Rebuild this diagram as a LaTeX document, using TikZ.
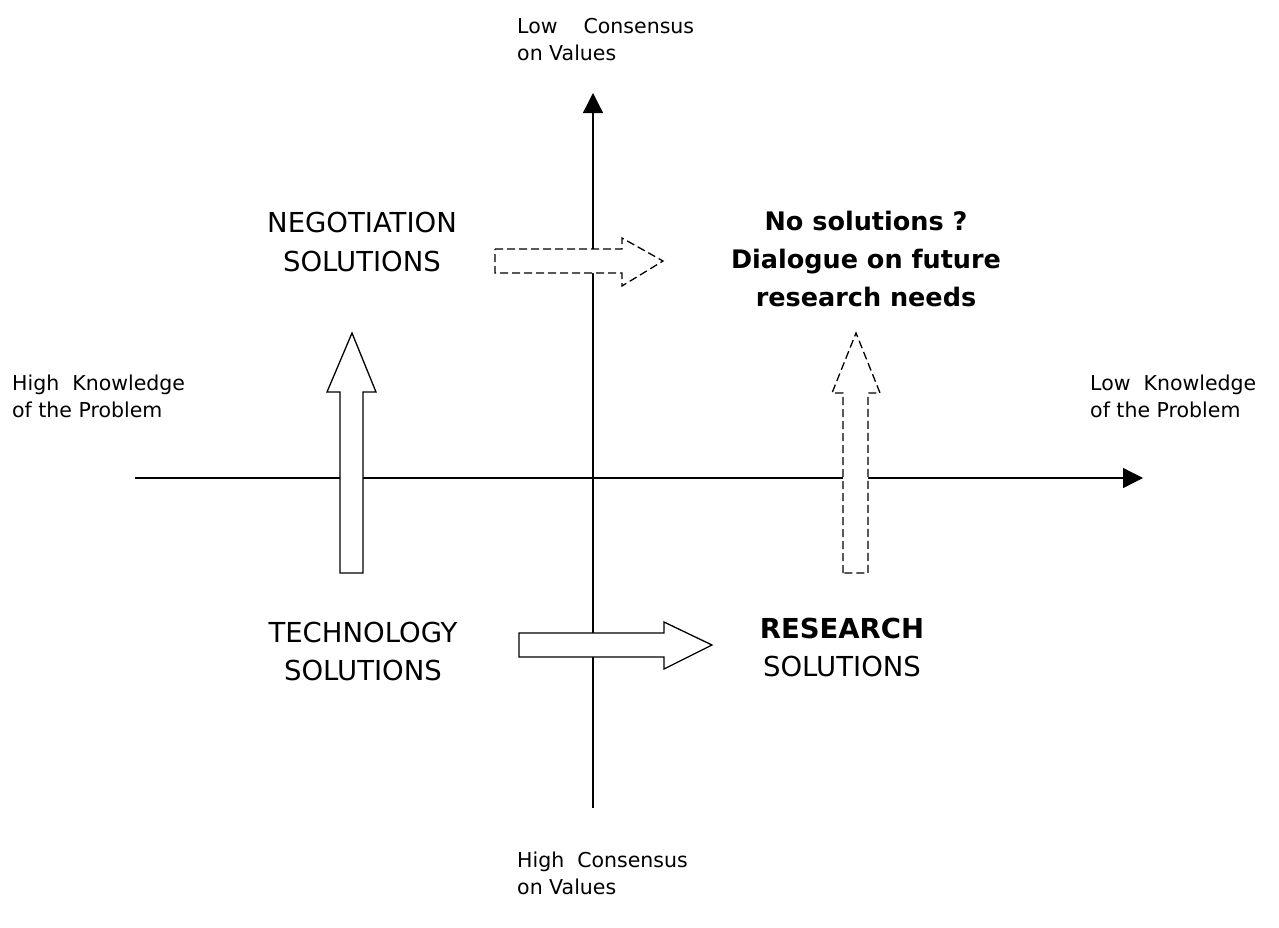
\documentclass[tikz,border=0pt]{standalone}
\usepackage{fontspec}
\setmainfont{DejaVu Sans}
\usetikzlibrary{arrows.meta}
\begin{document}
\begin{tikzpicture}[x=1pt,y=-1pt,
  axis/.style={line width=1.3pt,-{Triangle[length=20pt,width=20pt]}},
  blockarrow/.style={draw=black,fill=white,line width=1.3pt,line join=miter},
  dashedarrow/.style={blockarrow,dash pattern=on 8pt off 4pt},
  small/.style={inner sep=0pt,anchor=base west,font=\fontsize{20.5}{27}\selectfont},
  big/.style={inner sep=0pt,anchor=base,font=\fontsize{27.5}{38}\selectfont},
  bigbold/.style={inner sep=0pt,anchor=base,font=\fontsize{25.5}{38}\selectfont\bfseries},
]
\useasboundingbox[fill=white] (0,0) rectangle (1279,927);
% axes
\coordinate (vS) at (593,808);
\coordinate (vE) at (593,93);
\coordinate (hS) at (135,478);
\coordinate (hE) at (1143,478);
\draw[axis] (vS) -- (vE);
\draw[axis] (hS) -- (hE);
% block arrows
\draw[blockarrow] (340,573) -- (340,392) -- (327,392) -- (352,333) -- (376,392) -- (363,392) -- (363,573) -- cycle;
\draw[dashedarrow] (843,573) -- (843,393) -- (832,393) -- (856,333) -- (880,393) -- (868,393) -- (868,573) -- cycle;
\draw[dashedarrow] (495,249) -- (622,249) -- (622,238) -- (663,261) -- (622,286) -- (622,273) -- (495,273) -- cycle;
\draw[blockarrow] (519,633) -- (664,633) -- (664,622) -- (712,645) -- (664,669) -- (664,657) -- (519,657) -- cycle;
% labels
\node[small] (lowcons) at (517,33) {\begin{tabular}[t]{@{}l@{}}Low\ \ \ \ Consensus\\on Values\end{tabular}};
\node[small] (highcons) at (517,867) {\begin{tabular}[t]{@{}l@{}}High\ \ Consensus\\on Values\end{tabular}};
\node[small] (highknow) at (12,390) {\begin{tabular}[t]{@{}l@{}}High\ \ Knowledge\\of the Problem\end{tabular}};
\node[small] (lowknow) at (1090,390) {\begin{tabular}[t]{@{}l@{}}Low\ \ Knowledge\\of the Problem\end{tabular}};
\node[big] (nego) at (362,232) {\begin{tabular}[t]{@{}c@{}}NEGOTIATION\\[1pt]SOLUTIONS\end{tabular}};
\node[big] (tech) at (363,642) {\begin{tabular}[t]{@{}c@{}}TECHNOLOGY\\SOLUTIONS\end{tabular}};
\node[big] (res) at (842,638) {\begin{tabular}[t]{@{}c@{}}\bfseries RESEARCH\\SOLUTIONS\end{tabular}};
\node[bigbold] (nosol) at (866,230) {\begin{tabular}[t]{@{}c@{}}No solutions ?\\Dialogue on future\\research needs\end{tabular}};
\end{tikzpicture}
\end{document}
